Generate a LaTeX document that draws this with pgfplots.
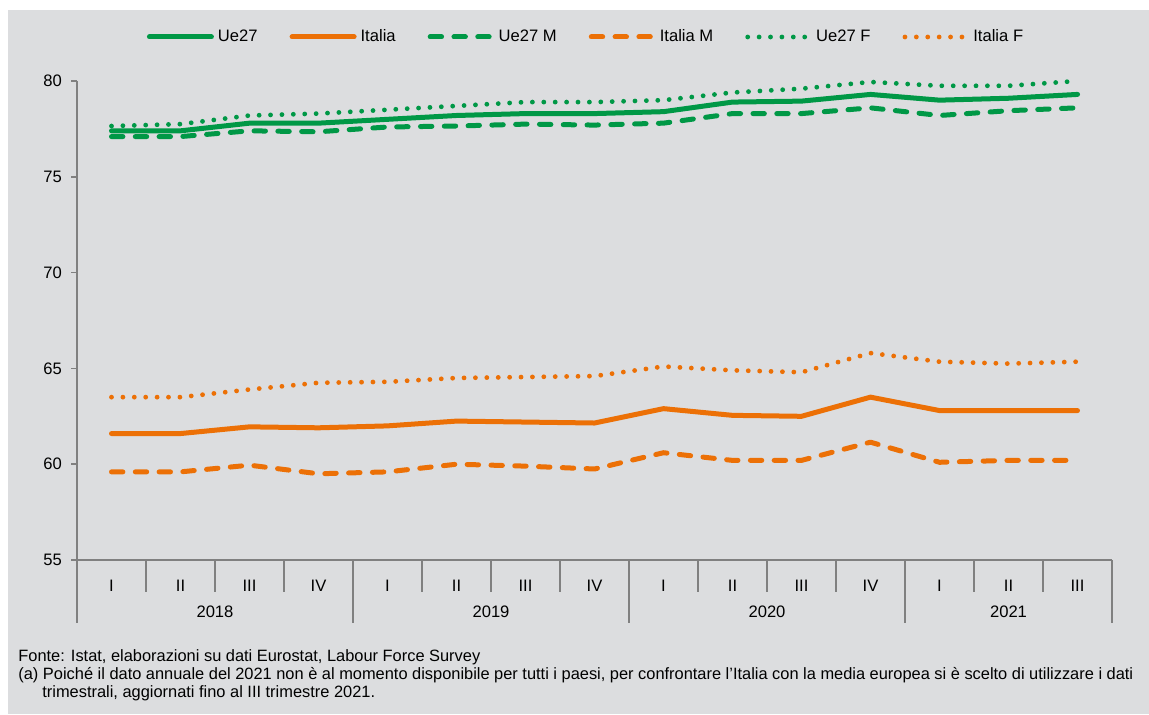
\documentclass[border=0pt]{standalone}
\usepackage{pgfplots}
\usepackage{pgfplotstable}
\pgfplotsset{compat=1.18}
\usepackage{fontspec}
\setmainfont{Liberation Sans}

\definecolor{ue}{RGB}{0,152,70}
\definecolor{it}{RGB}{236,112,6}
\definecolor{bg}{RGB}{220,221,223}
\definecolor{ax}{RGB}{128,128,128}

\newcommand{\fs}{\fontsize{8.3}{9.5}\selectfont}
\newcommand{\fn}{\fontsize{8.2}{9.5}\selectfont}

\tikzset{
  solidline/.style={line width=2.5pt, line cap=round, line join=round},
  dashline/.style={line width=2.5pt, line cap=round, line join=round, dash pattern=on 5.7pt off 6.2pt},
  dotline/.style={line width=2.4pt, line cap=round, dash pattern=on 0pt off 5.7pt},
}

% quarterly employment rate 20-64, Ue27 vs Italia (total, M, F)
\pgfplotstableread{
x ue it uem itm uef itf
0 77.4 61.6 77.1 59.6 77.65 63.5
1 77.4 61.6 77.1 59.6 77.75 63.5
2 77.8 61.95 77.4 59.95 78.2 63.9
3 77.8 61.9 77.35 59.5 78.3 64.25
4 78.0 62.0 77.6 59.6 78.5 64.3
5 78.2 62.25 77.65 60.0 78.7 64.5
6 78.3 62.2 77.75 59.9 78.9 64.55
7 78.3 62.15 77.7 59.75 78.9 64.6
8 78.4 62.9 77.8 60.6 79.0 65.1
9 78.9 62.55 78.3 60.2 79.4 64.9
10 78.95 62.5 78.3 60.2 79.6 64.8
11 79.3 63.5 78.6 61.15 79.95 65.8
12 79.0 62.8 78.2 60.1 79.75 65.35
13 79.1 62.8 78.45 60.2 79.75 65.25
14 79.3 62.8 78.6 60.2 80.0 65.35
}\data

\begin{document}
\begin{tikzpicture}
\useasboundingbox (0,0) rectangle (574.5pt,357pt);
\fill[white] (0,0) rectangle (574.5pt,357pt);
\fill[bg] (4pt,0pt) rectangle (574.5pt,352pt);

\begin{axis}[
  at={(38.5pt,77pt)}, anchor=south west,
  scale only axis, width=517.5pt, height=239.5pt,
  xmin=-0.5, xmax=14.5, ymin=55, ymax=80,
  axis x line*=bottom, axis y line*=left,
  axis line style={ax, line width=1pt, -},
  clip=false,
  /pgf/number format/assume math mode=true,
  ytick={55,60,...,80},
  tick align=outside, major tick length=3pt,
  ytick style={ax, line width=0.8pt},
  yticklabel style={font=\fs, xshift=-1pt},
  xtick={0,...,14},
  xticklabels={I,II,III,IV,I,II,III,IV,I,II,III,IV,I,II,III},
  xtick style={draw=none},
  xticklabel style={font=\fs, anchor=center, yshift=-10pt},
  legend columns=6,
  legend cell align=left,
  legend image code/.code={\draw[#1] (0pt,0pt) -- (31pt,0pt);},
  legend style={at={(0.4928,1.0919)}, anchor=center, draw=none, fill=none,
    font=\fs, /tikz/every even column/.append style={column sep=14pt}},
]
\addplot[ue, solidline] table[x=x, y=ue] {\data};
\addlegendentry{Ue27}
\addplot[it, solidline] table[x=x, y=it] {\data};
\addlegendentry{Italia}
\addplot[ue, dashline] table[x=x, y=uem] {\data};
\addlegendentry{Ue27 M}
\addplot[it, dashline] table[x=x, y=itm] {\data};
\addlegendentry{Italia M}
\addplot[ue, dotline] table[x=x, y=uef] {\data};
\addlegendentry{Ue27 F}
\addplot[it, dotline] table[x=x, y=itf] {\data};
\addlegendentry{Italia F}

% quarter and year separators below the axis
\pgfplotsinvokeforeach{0.5,1.5,2.5,4.5,5.5,6.5,8.5,9.5,10.5,12.5,13.5}{
  \draw[ax, line width=0.8pt] (axis cs:#1,55) -- ++(0pt,-16pt);
}
\pgfplotsinvokeforeach{-0.5,3.5,7.5,11.5,14.5}{
  \draw[ax, line width=0.8pt] (axis cs:#1,55) -- ++(0pt,-31.5pt);
}
\node[font=\fs, yshift=-26pt] at (axis cs:1.5,55) {2018};
\node[font=\fs, yshift=-26pt] at (axis cs:5.5,55) {2019};
\node[font=\fs, yshift=-26pt] at (axis cs:9.5,55) {2020};
\node[font=\fs, yshift=-26pt] at (axis cs:13,55) {2021};
\end{axis}

\node[anchor=base west, font=\fn, inner sep=0pt] at (9pt,26.5pt)
  {Fonte: Istat, elaborazioni su dati Eurostat, Labour Force Survey};
\node[anchor=base west, font=\fn, inner sep=0pt] at (9pt,17.5pt)
  {(a) Poiché il dato annuale del 2021 non è al momento disponibile per tutti i paesi, per confrontare l’Italia con la media europea si è scelto di utilizzare i dati};
\node[anchor=base west, font=\fn, inner sep=0pt] at (21pt,8.5pt)
  {trimestrali, aggiornati fino al III trimestre 2021.};
\end{tikzpicture}
\end{document}
